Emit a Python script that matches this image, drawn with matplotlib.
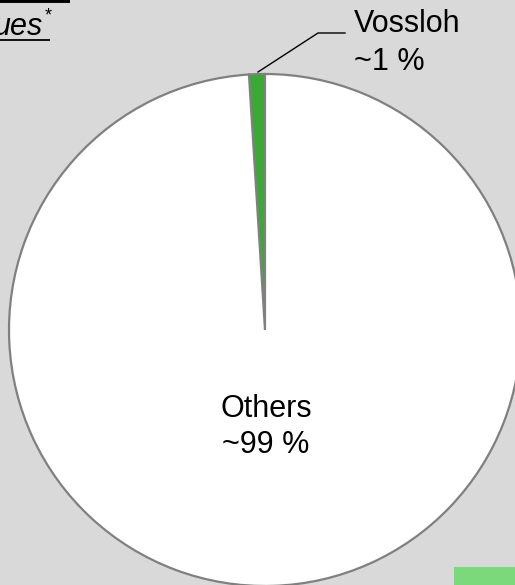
import matplotlib
matplotlib.use("Agg")
import matplotlib.pyplot as plt

# market shares
labels = ["Vossloh", "Others"]
shares = [1, 99]
share_text = ["~1 %", "~99 %"]
colors = ["#3aaa35", "#ffffff"]

W, H = 515, 585
fig = plt.figure(figsize=(W / 100, H / 100), dpi=100)
fig.patch.set_facecolor("#d9d9d9")
ax = fig.add_axes([0, 0, 1, 1])

cx, cy, r = 265, H - 330, 256
ax.pie(shares, colors=colors, startangle=90, counterclock=True,
       center=(cx, cy), radius=r, frame=True,
       wedgeprops=dict(edgecolor="#808080", linewidth=1.6))
ax.set_xlim(0, W)
ax.set_ylim(0, H)
ax.set_aspect("equal")
ax.axis("off")

# labels
ax.text(cx + 1, H - 417, labels[1], ha="center", va="baseline",
        fontsize=22, family="Liberation Sans")
ax.text(cx + 1, H - 453, share_text[1], ha="center", va="baseline",
        fontsize=22, family="Liberation Sans")
ax.text(354, H - 32, labels[0], ha="left", va="baseline",
        fontsize=22, family="Liberation Sans")
ax.text(354, H - 70, share_text[0], ha="left", va="baseline",
        fontsize=22, family="Liberation Sans")
ax.plot([258, 318, 345], [H - 72, H - 33, H - 33], color="black", lw=1)

# cut-off title at top left
ax.text(43, H - 35, "ues", ha="right", va="baseline", fontsize=22,
        style="italic", family="Liberation Sans")
ax.text(45, H - 20, "*", ha="left", va="baseline", fontsize=13,
        family="Liberation Sans")
ax.plot([0, 50], [H - 39.5, H - 39.5], color="black", lw=1.3, solid_capstyle="butt")
ax.plot([0, 70], [H - 0.5, H - 0.5], color="black", lw=2.8, solid_capstyle="butt")

# green box at bottom right
ax.add_patch(plt.Rectangle((454, 0), 61, 18, color="#7bd87b", lw=0))

fig.savefig("out.png", dpi=100, facecolor=fig.get_facecolor())
